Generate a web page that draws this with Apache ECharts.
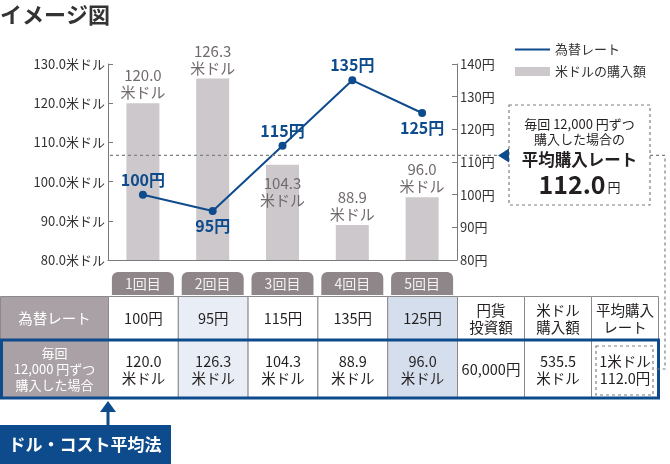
<!DOCTYPE html>
<html><head><meta charset="utf-8">
<script src="https://cdn.jsdelivr.net/npm/echarts@6/dist/echarts.min.js"></script>
<style>html,body{margin:0;padding:0;background:#fff}#c{width:670px;height:464px}</style>
</head><body><div id="c"></div>
<script>
// ---- data ----
const rounds = ['1回目','2回目','3回目','4回目','5回目'];
const rates = [100, 95, 115, 135, 125];            // 為替レート (円)
const usdAmounts = [120.0, 126.3, 104.3, 88.9, 96.0]; // 米ドルの購入額
const leftTicks = [80, 90, 100, 110, 120, 130];
const rightTicks = [80, 90, 100, 110, 120, 130, 140];
const avgRate = 112.0;
const totalYen = '60,000';
const totalUsd = 535.5;
const ratePos = ['top','bottom','top','top','bottom'];
const amountPos = ['top','top','insideTop','top','top'];

const FONT = '"Noto Sans CJK JP", "Noto Sans", sans-serif';
const BLUE = '#0e4b8c';
const BAR = '#cdc8cb';
const TXT = '#231f20';
const chart = echarts.init(document.getElementById('c'));

const option = {
  animation: false,
  textStyle: { fontFamily: FONT },
  grid: { left: 108, right: 213, top: 64, bottom: 204 },
  legend: [
    { data: ['為替レート'], left: 510, top: 38, icon: 'rect', itemWidth: 35, itemHeight: 2, itemGap: 8,
      textStyle: { fontFamily: FONT, fontSize: 13, color: '#333' } },
    { data: ['米ドルの購入額'], left: 510, top: 60, icon: 'rect', itemWidth: 35, itemHeight: 9, itemGap: 8,
      textStyle: { fontFamily: FONT, fontSize: 13, color: '#333' } }
  ],
  xAxis: {
    type: 'category', data: rounds,
    axisLine: { lineStyle: { color: '#7a7a7a' } },
    axisTick: { show: false },
    axisLabel: {
      margin: 12, color: '#f4f2f3', fontFamily: FONT, fontSize: 14, lineHeight: 15,
      backgroundColor: '#8f8689', borderRadius: [6, 6, 0, 0],
      width: 62, align: 'center', padding: [4, 0, 4, 0]
    }
  },
  yAxis: [
    { type: 'value', min: leftTicks[0], max: leftTicks[leftTicks.length - 1], interval: 10,
      axisLine: { show: true, lineStyle: { color: '#7a7a7a' } },
      axisTick: { show: true, inside: true, length: 5, lineStyle: { color: '#7a7a7a' } },
      splitLine: { show: false },
      axisLabel: { margin: 3, color: '#333', fontFamily: FONT, fontSize: 13,
        formatter: v => v.toFixed(1) + '米ドル' } },
    { type: 'value', min: rightTicks[0], max: rightTicks[rightTicks.length - 1], interval: 10,
      axisLine: { show: true, lineStyle: { color: '#7a7a7a' } },
      axisTick: { show: true, inside: true, length: 5, lineStyle: { color: '#7a7a7a' } },
      splitLine: { show: false },
      axisLabel: { margin: 3, color: '#333', fontFamily: FONT, fontSize: 13,
        formatter: v => v + '円' } }
  ],
  series: [
    { name: '米ドルの購入額', type: 'bar', yAxisIndex: 0, barWidth: 33,
      itemStyle: { color: BAR },
      data: usdAmounts.map((v, i) => ({ value: v,
        label: { position: amountPos[i], distance: amountPos[i] === 'insideTop' ? 10 : 2 } })),
      label: { show: true, color: '#716a6c', fontFamily: FONT, fontSize: 15, lineHeight: 17,
        formatter: p => p.value.toFixed(1) + '\n米ドル' } },
    { name: '為替レート', type: 'line', yAxisIndex: 1, symbol: 'circle', symbolSize: 8,
      itemStyle: { color: BLUE }, lineStyle: { color: BLUE, width: 2 },
      data: rates.map((v, i) => ({ value: v, label: { position: ratePos[i] } })),
      label: { show: true, color: BLUE, fontFamily: FONT, fontSize: 16, fontWeight: 'bold',
        distance: 3, formatter: p => p.value + '円' } }
  ]
};
chart.setOption(option);

// ---- annotations & table (graphic) ----
const g = [];
const yAvg = chart.convertToPixel({ yAxisIndex: 1 }, avgRate);
const gridL = 108, gridR = 457;
const dash = { stroke: '#7f7f7f', lineWidth: 1.2, lineDash: [3, 3] };
// average line
g.push({ type: 'line', shape: { x1: gridL + 2, y1: yAvg, x2: 498, y2: yAvg }, style: dash, z: 5 });
g.push({ type: 'polygon', shape: { points: [[498, yAvg], [509, yAvg - 7], [509, yAvg + 7]] }, style: { fill: BLUE }, z: 6 });
// callout box
g.push({ type: 'rect', shape: { x: 509, y: 105, width: 141, height: 100 }, style: Object.assign({ fill: '#fff' }, dash), z: 5 });
g.push({ type: 'text', x: 579.5, y: 124, style: { text: '毎回 12,000 円ずつ', font: '13px ' + FONT, fill: TXT, align: 'center', verticalAlign: 'middle' }, z: 6 });
g.push({ type: 'text', x: 579.5, y: 139, style: { text: '購入した場合の', font: '13px ' + FONT, fill: TXT, align: 'center', verticalAlign: 'middle' }, z: 6 });
g.push({ type: 'text', x: 579.5, y: 160, style: { text: '平均購入レート', font: 'bold 16.5px ' + FONT, fill: TXT, align: 'center', verticalAlign: 'middle' }, z: 6 });
g.push({ type: 'text', x: 579.5, y: 184, style: { rich: { a: { font: 'bold 25px ' + FONT, fill: TXT }, b: { font: '13px ' + FONT, fill: TXT, padding: [7, 0, 0, 2] } },
  text: '{a|' + avgRate.toFixed(1) + '}{b|円}', align: 'center', verticalAlign: 'middle' }, z: 6 });
// connector to table cell
g.push({ type: 'polyline', shape: { points: [[650, yAvg], [665, yAvg], [665, 369], [655, 369]] }, style: Object.assign({ fill: null }, dash), z: 5 });

// table
const step = chart.convertToPixel({ xAxisIndex: 0 }, 1) - chart.convertToPixel({ xAxisIndex: 0 }, 0);
const edges = [0];
for (let i = 0; i < rounds.length; i++) edges.push(chart.convertToPixel({ xAxisIndex: 0 }, i) - step / 2);
edges.push(gridR);
[67, 67, 67].forEach(w => edges.push(edges[edges.length - 1] + w));
const rowY = [296, 340, 398];
const colFill = (c) => c === 0 ? '#a9a1a5' : (c === 2 ? '#e9eef6' : (c === 5 ? '#d5deec' : '#fff'));
const row1 = ['為替レート'].concat(rates.map(r => r + '円'), ['円貨\n投資額', '米ドル\n購入額', '平均購入\nレート']);
const row2 = ['毎回\n12,000 円ずつ\n購入した場合'].concat(usdAmounts.map(v => v.toFixed(1) + '\n米ドル'),
  [totalYen + '円', totalUsd.toFixed(1) + '\n米ドル', '1米ドル\n' + avgRate.toFixed(1) + '円']);
[row1, row2].forEach((row, r) => {
  row.forEach((t, c) => {
    const x0 = edges[c], x1 = edges[c + 1], y0 = rowY[r], y1 = rowY[r + 1];
    g.push({ type: 'rect', shape: { x: x0 + 0.5, y: y0 + 0.5, width: x1 - x0, height: y1 - y0 },
      style: { fill: colFill(c), stroke: '#8a8a8a', lineWidth: 1 }, z: 1 });
    const head = c === 0;
    g.push({ type: 'text', x: (x0 + x1) / 2 + 0.5, y: (y0 + y1) / 2 + 0.5,
      style: { text: t, font: (head && r === 1 ? '13px ' : '14.5px ') + FONT, lineHeight: head && r === 1 ? 16 : 17,
        fill: head ? '#fff' : TXT, align: 'center', verticalAlign: 'middle' }, z: 3 });
  });
});
// dashed highlight in last cell
g.push({ type: 'rect', shape: { x: edges[8] + 5, y: 346, width: edges[9] - edges[8] - 10, height: 49 }, style: Object.assign({ fill: null }, dash), z: 4 });
// blue row border
g.push({ type: 'rect', shape: { x: 1.5, y: 340, width: edges[9] - 1, height: 58 }, style: { fill: null, stroke: BLUE, lineWidth: 3 }, z: 4 });
// arrow and label
g.push({ type: 'rect', shape: { x: edges[1] - 1.5, y: 410, width: 3, height: 16 }, style: { fill: BLUE }, z: 4 });
g.push({ type: 'polygon', shape: { points: [[edges[1] - 8, 412], [edges[1], 401], [edges[1] + 8, 412]] }, style: { fill: BLUE }, z: 4 });
g.push({ type: 'rect', shape: { x: 0, y: 425, width: 171, height: 39 }, style: { fill: BLUE }, z: 4 });
g.push({ type: 'text', x: 85, y: 445, style: { text: 'ドル・コスト平均法', font: 'bold 17px ' + FONT, fill: '#fff', align: 'center', verticalAlign: 'middle' }, z: 5 });
// title
g.push({ type: 'text', x: 0, y: 15, style: { text: 'イメージ図', font: 'bold 22px ' + FONT, fill: '#333', verticalAlign: 'middle' }, z: 5 });

chart.setOption({ graphic: { elements: g } });
</script></body></html>
